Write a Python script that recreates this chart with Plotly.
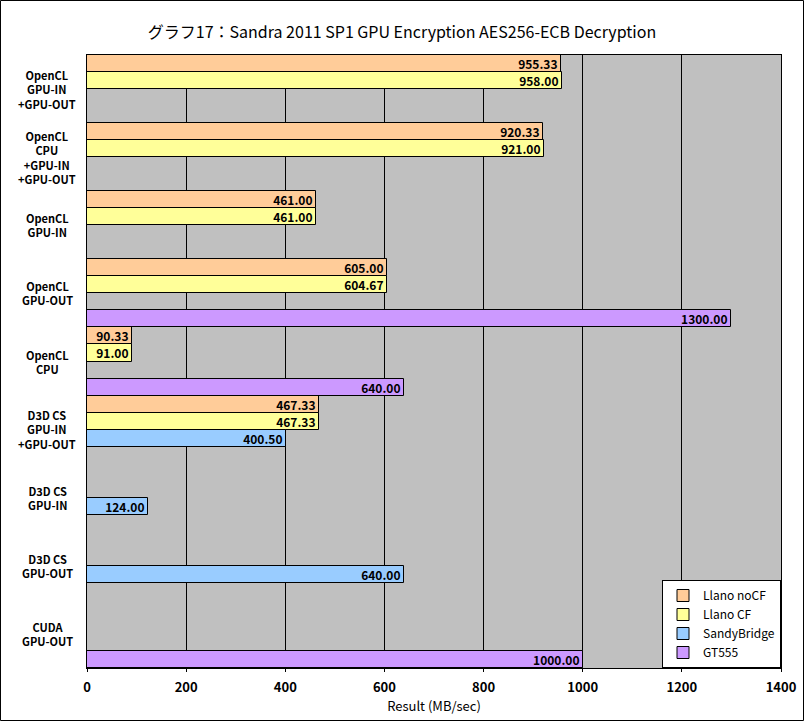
import plotly.graph_objects as go

categories = ["OpenCL GPU-IN +GPU-OUT", "OpenCL CPU +GPU-IN +GPU-OUT", "OpenCL GPU-IN",
              "OpenCL GPU-OUT", "OpenCL CPU", "D3D CS GPU-IN +GPU-OUT", "D3D CS GPU-IN",
              "D3D CS GPU-OUT", "CUDA GPU-OUT"]
category_labels = ["OpenCL<br>GPU-IN<br>+GPU-OUT", "OpenCL<br>CPU<br>+GPU-IN<br>+GPU-OUT", "OpenCL<br>GPU-IN",
                   "OpenCL<br>GPU-OUT", "OpenCL<br>CPU", "D3D CS<br>GPU-IN<br>+GPU-OUT", "D3D CS<br>GPU-IN",
                   "D3D CS<br>GPU-OUT", "CUDA<br>GPU-OUT"]
llano_nocf = [955.33, 920.33, 461.00, 605.00, 90.33, 467.33, None, None, None]
llano_cf = [958.00, 921.00, 461.00, 604.67, 91.00, 467.33, None, None, None]
sandybridge = [None, None, None, None, None, 400.50, 124.00, 640.00, None]
gt555 = [None, None, None, 1300.00, 640.00, None, None, None, 1000.00]

series = [("Llano noCF", llano_nocf, "#FFCC99"),
          ("Llano CF", llano_cf, "#FFFF99"),
          ("SandyBridge", sandybridge, "#99CCFF"),
          ("GT555", gt555, "#CC99FF")]

font = "Noto Sans CJK JP, sans-serif"
fig = go.Figure()
for name, vals, col in series:
    fig.add_trace(go.Bar(
        y=categories, x=vals, name=name, orientation="h",
        marker=dict(color=col, line=dict(color="black", width=1)),
        texttemplate="<b>%{x:.2f}</b>", textposition="inside", insidetextanchor="end",
        textfont=dict(color="black", size=12, family=font), constraintext="none",
    ))

PW, PH = 694, 613
fig.update_layout(
    width=804, height=721,
    margin=dict(l=87, r=23, t=55, b=53, autoexpand=False),
    paper_bgcolor="white", plot_bgcolor="#C0C0C0",
    barmode="group", bargap=0.0, bargroupgap=0.0,
    title=dict(text="グラフ17：Sandra 2011 SP1 GPU Encryption AES256-ECB Decryption",
               x=0.5, xanchor="center", y=0.955, yanchor="middle",
               font=dict(family=font, size=16, color="black")),
    font=dict(family=font, color="black"),
    showlegend=True,
    legend=dict(x=1, y=0, xanchor="right", yanchor="bottom", bgcolor="white",
                bordercolor="black", borderwidth=1, tracegroupgap=0,
                font=dict(family=font, size=12, color="black"), itemwidth=30),
    uniformtext=dict(minsize=8, mode="show"),
)
fig.update_xaxes(range=[0, 1400], dtick=200, showgrid=True, gridcolor="black", gridwidth=1,
                 showline=True, linecolor="black", mirror=True, zeroline=False, automargin=False,
                 ticks="outside", ticklen=3, tickcolor="black", ticklabelstandoff=4,
                 tickfont=dict(size=13, family=font), tickprefix="<b>", ticksuffix="</b>",
                 title=dict(text="Result (MB/sec)", font=dict(size=13, family=font), standoff=6))
fig.update_yaxes(autorange="reversed", showgrid=False, showline=True, linecolor="black", mirror=True,
                 showticklabels=False, automargin=False)

for cat, lab in zip(categories, category_labels):
    fig.add_annotation(x=-40/PW, xref="paper", y=cat, yref="y", text="<b>" + lab + "</b>",
                       showarrow=False, align="center", xanchor="center", yanchor="middle",
                       font=dict(size=11, family=font, color="black"))

fig.add_shape(type="rect", xref="paper", yref="paper",
              x0=-87/PW + 0.0007, x1=1 + 23/PW - 0.0007,
              y0=-53/PH + 0.0008, y1=1 + 55/PH - 0.0008,
              line=dict(color="black", width=1), fillcolor="rgba(0,0,0,0)", layer="below")

fig.write_html("out.html", config={"displayModeBar": False},
               post_script="document.body.style.margin='0';")
